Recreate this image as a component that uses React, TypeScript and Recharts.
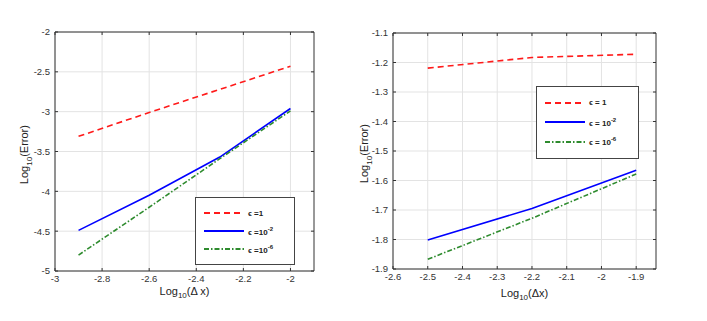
import { CartesianGrid, Legend, Line, LineChart, XAxis, YAxis } from "recharts";

// left panel
const leftDx = [-2.9, -2.6, -2.3, -2];
const leftEps1 = [-3.31, -3.01, -2.72, -2.43];
const leftEps2 = [-4.49, -4.05, -3.57, -2.96];
const leftEps6 = [-4.8, -4.2, -3.59, -2.99];
const leftXTicks = [-3, -2.8, -2.6, -2.4, -2.2, -2];
const leftYTicks = [-5, -4.5, -4, -3.5, -3, -2.5, -2];

// right panel
const rightDx = [-2.5, -2.2, -1.9];
const rightEps1 = [-1.219, -1.183, -1.172];
const rightEps2 = [-1.802, -1.695, -1.565];
const rightEps6 = [-1.867, -1.728, -1.578];
const rightXTicks = [-2.6, -2.5, -2.4, -2.3, -2.2, -2.1, -2, -1.9];
const rightYTicks = [-1.9, -1.8, -1.7, -1.6, -1.5, -1.4, -1.3, -1.2, -1.1];

const RED = "#ff1a1a";
const BLUE = "#0000ff";
const GREEN = "#2e8b2e";
const AXIS = "#333";
const GRID = "#e3e3e3";
const FONT = "'Liberation Sans', Arial, sans-serif";

const EXP: Record<string, string | null> = { eps1: null, eps2: "-2", eps6: "-6" };

type Row = { x: number; eps1: number; eps2: number; eps6: number };

const toRows = (xs: number[], a: number[], b: number[], c: number[]): Row[] =>
  xs.map((x, i) => ({ x, eps1: a[i], eps2: b[i], eps6: c[i] }));

function EpsLegend(props: any) {
  const { payload, spaced, rowH } = props;
  return (
    <div
      style={{
        border: "1.5px solid #444",
        background: "#fff",
        padding: "6px 0 6px 8px",
        boxSizing: "border-box",
        fontFamily: FONT,
        fontSize: 8,
        fontWeight: "bold",
        color: "#222",
      }}
    >
      {(payload || []).map((p: any) => (
        <div key={p.dataKey} style={{ display: "flex", alignItems: "center", height: rowH }}>
          <svg width={44} height={4} style={{ display: "block" }}>
            <line
              x1={0}
              y1={2}
              x2={40}
              y2={2}
              stroke={p.color}
              strokeWidth={1.8}
              strokeDasharray={p.payload?.strokeDasharray}
            />
          </svg>
          <span>
            {"\u03f5 "}
            {spaced ? "= " : "="}
            {EXP[p.dataKey] ? (
              <>
                10<sup style={{ fontSize: 6 }}>{EXP[p.dataKey]}</sup>
              </>
            ) : (
              "1"
            )}
          </span>
        </div>
      ))}
    </div>
  );
}

function Panel(props: {
  left: number;
  width: number;
  rows: Row[];
  xDomain: [number, number];
  yDomain: [number, number];
  xTicks: number[];
  yTicks: number[];
  plot: { l: number; t: number; r: number; b: number };
  legend: { left: number; top: number; width: number; rowH: number; spaced: boolean };
  xLabel: string;
  xLabelY: number;
  yLabelX: number;
}) {
  const { plot } = props;
  const H = 321;
  const tickStyle = { fill: "#333", fontSize: 9.5, fontFamily: FONT };
  return (
    <div style={{ position: "absolute", left: props.left, top: 0, width: props.width, height: H }}>
      <LineChart
        width={props.width}
        height={H}
        data={props.rows}
        margin={{ top: plot.t - 10, bottom: H - plot.b - 20, left: plot.l - 30, right: props.width - plot.r - 10 }}
      >
        <CartesianGrid stroke={GRID} strokeWidth={1} horizontalValues={props.yTicks} verticalValues={props.xTicks} />
        <XAxis
          type="number"
          dataKey="x"
          domain={props.xDomain}
          ticks={props.xTicks}
          allowDataOverflow
          height={20}
          tick={tickStyle}
          tickSize={-3}
          tickMargin={7}
          axisLine={{ stroke: AXIS }}
          tickLine={{ stroke: AXIS }}
        />
        <XAxis
          xAxisId="top"
          orientation="top"
          type="number"
          dataKey="x"
          domain={props.xDomain}
          ticks={props.xTicks}
          allowDataOverflow
          height={10}
          tickFormatter={() => ""}
          tickSize={-3}
          axisLine={{ stroke: AXIS }}
          tickLine={{ stroke: AXIS }}
        />
        <YAxis
          type="number"
          domain={props.yDomain}
          ticks={props.yTicks}
          allowDataOverflow
          width={30}
          tick={tickStyle}
          tickSize={-3}
          tickMargin={8}
          axisLine={{ stroke: AXIS }}
          tickLine={{ stroke: AXIS }}
        />
        <YAxis
          yAxisId="right"
          orientation="right"
          type="number"
          domain={props.yDomain}
          ticks={props.yTicks}
          allowDataOverflow
          width={10}
          tickFormatter={() => ""}
          tickSize={-3}
          axisLine={{ stroke: AXIS }}
          tickLine={{ stroke: AXIS }}
        />
        <Line dataKey="eps1" stroke={RED} strokeWidth={1.6} strokeDasharray="6 4" dot={false} isAnimationActive={false} />
        <Line dataKey="eps2" stroke={BLUE} strokeWidth={1.6} dot={false} isAnimationActive={false} />
        <Line
          dataKey="eps6"
          stroke={GREEN}
          strokeWidth={1.6}
          strokeDasharray="5 2 1.5 2"
          dot={false}
          isAnimationActive={false}
        />
        <Legend
          layout="vertical"
          align="center"
          verticalAlign="middle"
          wrapperStyle={{ left: props.legend.left, top: props.legend.top, width: props.legend.width, right: "auto", bottom: "auto" }}
          content={(p: any) => <EpsLegend payload={p.payload} spaced={props.legend.spaced} rowH={props.legend.rowH} />}
        />
      </LineChart>
      <div
        style={{
          position: "absolute",
          left: plot.l,
          width: plot.r - plot.l,
          top: props.xLabelY - 7,
          textAlign: "center",
          fontFamily: FONT,
          fontSize: 11,
          color: "#222",
          lineHeight: "14px",
        }}
      >
        Log<sub style={{ fontSize: 8 }}>10</sub>({props.xLabel})
      </div>
      <div
        style={{
          position: "absolute",
          left: props.yLabelX - 50,
          top: (plot.t + plot.b) / 2 - 7,
          width: 100,
          textAlign: "center",
          fontFamily: FONT,
          fontSize: 11,
          color: "#222",
          lineHeight: "14px",
          transform: "rotate(-90deg)",
        }}
      >
        Log<sub style={{ fontSize: 8 }}>10</sub>(Error)
      </div>
    </div>
  );
}

export default function App() {
  return (
    <div style={{ position: "absolute", left: 0, top: 0, width: 707, height: 321, background: "#fff", overflow: "hidden" }}>
      <Panel
        left={0}
        width={360}
        rows={toRows(leftDx, leftEps1, leftEps2, leftEps6)}
        xDomain={[-3, -1.9]}
        yDomain={[-5, -2]}
        xTicks={leftXTicks}
        yTicks={leftYTicks}
        plot={{ l: 55, t: 32, r: 314, b: 271 }}
        legend={{ left: 195, top: 197, width: 100, rowH: 18, spaced: false }}
        xLabel={"\u0394 x"}
        xLabelY={291}
        yLabelX={27}
      />
      <Panel
        left={360}
        width={347}
        rows={toRows(rightDx, rightEps1, rightEps2, rightEps6)}
        xDomain={[-2.6, -1.843]}
        yDomain={[-1.9, -1.1]}
        xTicks={rightXTicks}
        yTicks={rightYTicks}
        plot={{ l: 33, t: 33, r: 296, b: 269 }}
        legend={{ left: 176, top: 86, width: 103, rowH: 19.5, spaced: true }}
        xLabel={"\u0394x"}
        xLabelY={293}
        yLabelX={7}
      />
    </div>
  );
}
